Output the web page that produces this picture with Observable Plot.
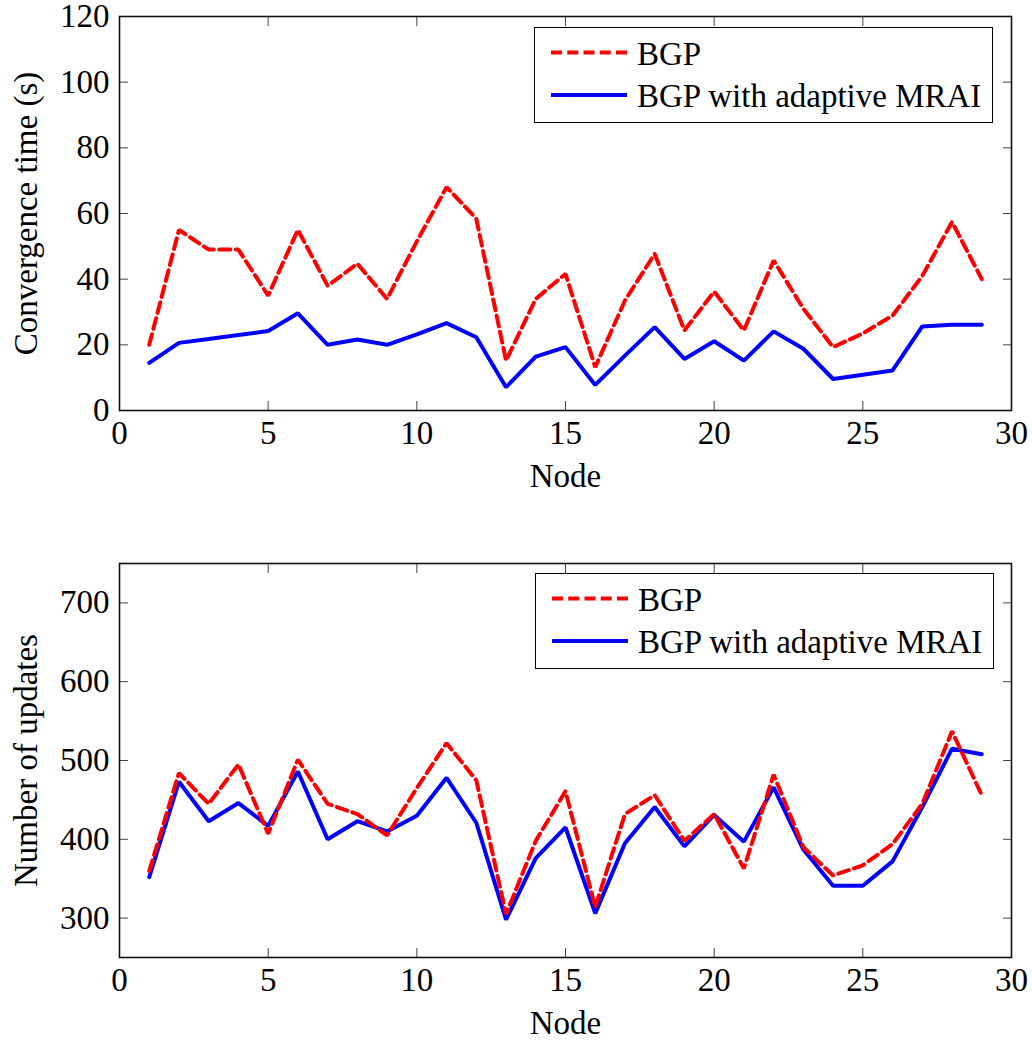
<!DOCTYPE html>
<html><head><meta charset="utf-8">
<script src="https://cdn.jsdelivr.net/npm/d3@7"></script>
<script src="https://cdn.jsdelivr.net/npm/@observablehq/plot@0.6"></script>
<style>
body{margin:0;background:#fff;}
#wrap{position:relative;width:1032px;height:1040px;font-family:"Liberation Serif",serif;}
#wrap svg{display:block;font-family:"Liberation Serif",serif;}
.legend{position:absolute;box-sizing:border-box;border:1.5px solid #000;background:#fff;}
</style>
</head><body>
<div id="wrap"></div>
<script>
// ---- data ----
const nodes = [1,2,3,4,5,6,7,8,9,10,11,12,13,14,15,16,17,18,19,20,21,22,23,24,25,26,27,28,29];
const seriesNames = ["BGP", "BGP with adaptive MRAI"];
const seriesColors = ["#ff0000", "#0000ff"];
const convBGP = [20, 55, 49, 49, 35, 55, 38, 44.7, 34, 51.5, 68, 58.4, 15.2, 34, 41.6, 13.2, 33.5, 47.7, 24.4, 36.2, 24.4, 45.7, 31, 19.3, 23.5, 28.9, 41, 57.4, 40];
const convAdaptive = [14.5, 20.6, 21.8, 23, 24.2, 29.6, 20, 21.6, 20, 23.2, 26.6, 22.3, 7.1, 16.4, 19.3, 7.8, 16.7, 25.4, 15.7, 21.1, 15.2, 24.1, 18.8, 9.6, 10.9, 12.2, 25.6, 26.1, 26.1];
const updBGP = [360, 484, 445, 495, 407, 501, 445, 432, 405, 465, 522, 475, 305, 398, 461, 314, 432, 456, 398, 432, 363, 482, 390, 354, 367, 394, 445, 537, 456];
const updAdaptive = [352, 473, 423, 446, 417, 486, 400, 423, 410, 430, 478, 421, 298, 376, 415, 306, 395, 441, 391, 431, 397, 466, 387, 341, 341, 372, 441, 515, 508];
const xTicks = [0, 5, 10, 15, 20, 25, 30];
const convTicks = [0, 20, 40, 60, 80, 100, 120];
const updTicks = [300, 400, 500, 600, 700];
const xLabel = "Node";
const convLabel = "Convergence time (s)";
const updLabel = "Number of updates";

const FONT = "Liberation Serif";
const FS = 33;

function makeChart({s1, s2, yDomain, yTicks, yLabel, height, marginTop, marginBottom}) {
  const rows = nodes.map((n, i) => ({node: n, a: s1[i], b: s2[i]}));
  return Plot.plot({
    width: 1032, height,
    marginLeft: 119, marginRight: 21, marginTop, marginBottom,
    style: {fontFamily: FONT, fontSize: FS + "px", color: "#000", background: "transparent", overflow: "visible"},
    x: {domain: [0, 30]},
    y: {domain: yDomain},
    marks: [
      Plot.axisX({ticks: xTicks, tickSize: 0, tickPadding: 10, label: xLabel, labelAnchor: "center", labelOffset: 76, labelArrow: "none", fontSize: FS, fontFamily: FONT, fontVariant: "normal"}),
      Plot.axisX({ticks: xTicks, tickSize: -9, text: null, label: null, stroke: "#444"}),
      Plot.axisX({anchor: "top", ticks: xTicks, tickSize: -9, text: null, label: null, stroke: "#444"}),
      Plot.axisY({ticks: yTicks, tickSize: 0, tickPadding: 10, label: yLabel, labelAnchor: "center", labelOffset: 106, labelArrow: "none", fontSize: FS, fontFamily: FONT, fontVariant: "normal"}),
      Plot.axisY({ticks: yTicks, tickSize: -9, text: null, label: null, stroke: "#444"}),
      Plot.axisY({anchor: "right", ticks: yTicks, tickSize: -9, text: null, label: null, stroke: "#444"}),
      Plot.lineY(rows, {x: "node", y: "b", stroke: seriesColors[1], strokeWidth: 4, strokeLinejoin: "miter"}),
      Plot.lineY(rows, {x: "node", y: "a", stroke: seriesColors[0], strokeWidth: 4, strokeDasharray: "11,5.5", strokeLinejoin: "miter"}),
      Plot.frame({stroke: "#111", strokeWidth: 1.6})
    ]
  });
}

function makeLegend(left, top) {
  const div = document.createElement("div");
  div.className = "legend";
  Object.assign(div.style, {left: left + "px", top: top + "px", width: "459px", height: "96px"});
  const ns = "http://www.w3.org/2000/svg";
  const svg = document.createElementNS(ns, "svg");
  svg.setAttribute("width", 456); svg.setAttribute("height", 93);
  seriesNames.forEach((name, i) => {
    const cy = 24.5 + i * 42.5;
    const line = document.createElementNS(ns, "line");
    line.setAttribute("x1", 16); line.setAttribute("x2", 92);
    line.setAttribute("y1", cy); line.setAttribute("y2", cy);
    line.setAttribute("stroke", seriesColors[i]); line.setAttribute("stroke-width", 4);
    if (i === 0) line.setAttribute("stroke-dasharray", "11,5.25");
    svg.appendChild(line);
    const t = document.createElementNS(ns, "text");
    t.setAttribute("x", 102); t.setAttribute("y", cy + 12);
    t.setAttribute("font-family", FONT); t.setAttribute("font-size", FS);
    t.setAttribute("fill", "#000");
    t.textContent = name;
    svg.appendChild(t);
  });
  div.appendChild(svg);
  return div;
}

const wrap = document.getElementById("wrap");
wrap.appendChild(makeChart({s1: convBGP, s2: convAdaptive, yDomain: [0, 120], yTicks: convTicks, yLabel: convLabel, height: 500, marginTop: 16, marginBottom: 90}));
wrap.appendChild(makeChart({s1: updBGP, s2: updAdaptive, yDomain: [250, 750], yTicks: updTicks, yLabel: updLabel, height: 540, marginTop: 63, marginBottom: 83}));
wrap.appendChild(makeLegend(534, 27));
wrap.appendChild(makeLegend(535, 573));
</script>
</body></html>
